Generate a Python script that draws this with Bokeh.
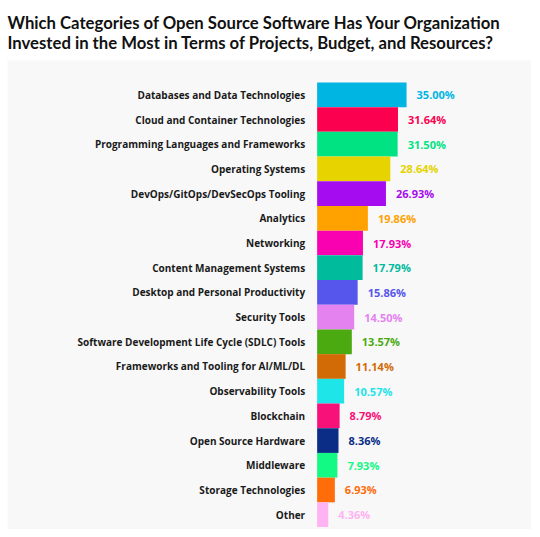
from bokeh.core.properties import value
from bokeh.embed import file_html
from bokeh.models import ColumnDataSource, Range1d
from bokeh.plotting import figure
from bokeh.resources import INLINE

# categories, top to bottom
categories = [
    "Databases and Data Technologies",
    "Cloud and Container Technologies",
    "Programming Languages and Frameworks",
    "Operating Systems",
    "DevOps/GitOps/DevSecOps Tooling",
    "Analytics",
    "Networking",
    "Content Management Systems",
    "Desktop and Personal Productivity",
    "Security Tools",
    "Software Development Life Cycle (SDLC) Tools",
    "Frameworks and Tooling for AI/ML/DL",
    "Observability Tools",
    "Blockchain",
    "Open Source Hardware",
    "Middleware",
    "Storage Technologies",
    "Other",
]
percent = [35.00, 31.64, 31.50, 28.64, 26.93, 19.86, 17.93, 17.79, 15.86,
           14.50, 13.57, 11.14, 10.57, 8.79, 8.36, 7.93, 6.93, 4.36]
bar_colors = ["#00b5e2", "#fc0050", "#00e383", "#e6d300", "#a60cf0", "#ffa200",
              "#f900b0", "#00bb9c", "#5656ec", "#e483f0", "#4aaa10", "#d26b05",
              "#1de5e8", "#f9117a", "#0b2d86", "#12fa84", "#ff6c0a", "#ffb3f2"]

source = ColumnDataSource(data=dict(
    y=list(range(len(categories))),
    cat=categories,
    pct=percent,
    label=["%.2f%%" % v for v in percent],
    color=bar_colors,
))

p = figure(width=531, height=529, output_backend="svg", toolbar_location=None,
           x_range=Range1d(-121.2, 83.9), y_range=Range1d(17.6, -1.39),
           min_border_left=7, min_border_right=0, min_border_bottom=0, min_border_top=60,
           title="Which Categories of Open Source Software Has Your Organization\n"
                 "Invested in the Most in Terms of Projects, Budget, and Resources?")

p.title.text_font = "Lato"
p.title.text_font_size = "16.7px"
p.title.text_font_style = "bold"
p.title.text_color = "#111111"
p.title.align = "left"
p.title.standoff = 16

p.background_fill_color = "#f8f8f8"
p.border_fill_color = "white"
p.outline_line_color = None
p.axis.visible = False
p.grid.visible = False

# barras
p.hbar(y="y", left=0, right="pct", height=1.0, color="color", line_color=None, source=source)

# nomes das categorias
p.text(x=0, y="y", text="cat", source=source, x_offset=-12, text_align="right",
       text_baseline="middle", text_font=value("Open Sans"), text_font_style="bold",
       text_font_size="10px", text_color="#1a1a1a")

# valores
p.text(x="pct", y="y", text="label", source=source, x_offset=10, text_align="left",
       text_baseline="middle", text_font=value("Open Sans"), text_font_style="bold",
       text_font_size="11px", text_color="color")

open("out.html", "w").write(file_html(p, INLINE))
